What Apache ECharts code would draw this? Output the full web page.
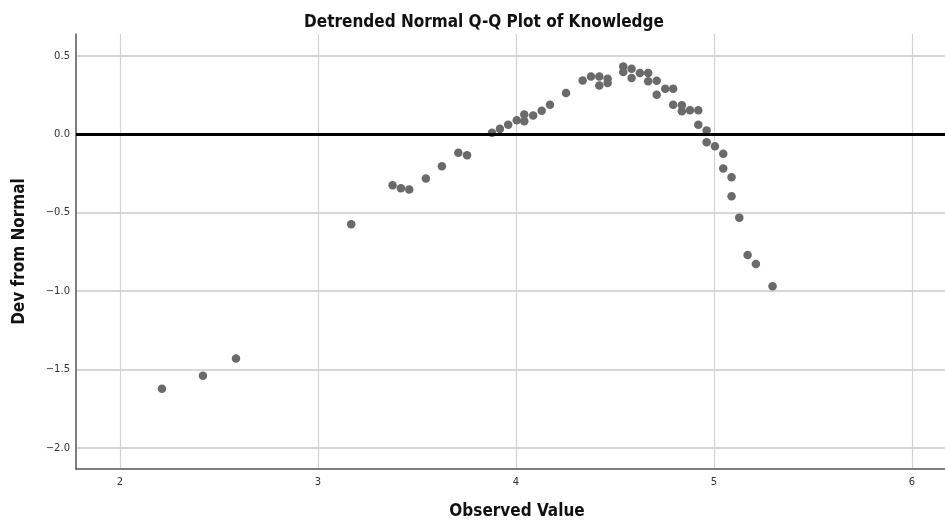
<!DOCTYPE html>
<html>
<head>
<meta charset="utf-8">
<script src="https://cdn.jsdelivr.net/npm/echarts@6/dist/echarts.min.js"></script>
<style>html,body{margin:0;padding:0;background:#fff}#c{width:945px;height:525px}</style>
</head>
<body>
<div id="c"></div>
<script>
const chartTitle = "Detrended Normal Q-Q Plot of Knowledge";
const xName = "Observed Value";
const yName = "Dev from Normal";
const observed = [2.212,2.419,2.586,3.168,3.377,3.419,3.461,3.545,3.626,3.709,3.753,3.879,3.919,3.961,4.004,4.042,4.042,4.087,4.130,4.172,4.253,4.337,4.379,4.421,4.421,4.463,4.463,4.542,4.542,4.584,4.584,4.626,4.668,4.668,4.711,4.711,4.754,4.794,4.794,4.838,4.838,4.879,4.921,4.921,4.963,4.963,5.005,5.047,5.047,5.089,5.089,5.128,5.170,5.212,5.296];
const devFromNormal = [-1.622,-1.540,-1.430,-0.573,-0.325,-0.343,-0.351,-0.281,-0.203,-0.118,-0.133,0.010,0.035,0.062,0.090,0.126,0.083,0.120,0.151,0.189,0.264,0.344,0.369,0.369,0.312,0.355,0.327,0.433,0.397,0.418,0.359,0.391,0.391,0.338,0.342,0.253,0.291,0.291,0.189,0.185,0.147,0.153,0.153,0.062,0.024,-0.050,-0.076,-0.124,-0.217,-0.273,-0.394,-0.531,-0.769,-0.826,-0.968];
const xTicks = [2,3,4,5,6];
const yTicks = [-2.0,-1.5,-1.0,-0.5,0.0,0.5];
const referenceY = 0;

const boldFont = "'DejaVu Sans Condensed','DejaVu Sans',sans-serif";
const tickFont = "'DejaVu Sans','Liberation Sans',sans-serif";
const fmt = v => (v < 0 ? '\u2212' : '') + Math.abs(v).toFixed(1);
const points = observed.map((x, i) => [x, devFromNormal[i]]);

const chart = echarts.init(document.getElementById('c'), null, {renderer: 'canvas'});
chart.setOption({
  animation: false,
  backgroundColor: '#ffffff',
  title: {
    text: chartTitle, left: 479, top: 9, textAlign: 'center',
    textStyle: {fontFamily: boldFont, fontSize: 17, fontWeight: 'bold', color: '#111'}
  },
  grid: {left: 76, right: 0, top: 34, bottom: 55, containLabel: false},
  xAxis: {
    type: 'value', min: 1.778, max: 6.167,
    name: xName, nameLocation: 'middle', nameGap: 34,
    nameTextStyle: {fontFamily: boldFont, fontSize: 17, fontWeight: 'bold', color: '#111', padding: [0, 0, 0, 13]},
    axisLine: {show: true, onZero: false, lineStyle: {color: '#555', width: 1.5}},
    axisTick: {show: false, customValues: xTicks},
    axisLabel: {customValues: xTicks, formatter: v => String(v), fontFamily: tickFont, fontSize: 10, color: '#333', margin: 8},
    splitLine: {show: true, lineStyle: {color: '#d2d2d2', width: 1.2}}
  },
  yAxis: {
    type: 'value', min: -2.134, max: 0.64,
    name: yName, nameLocation: 'middle', nameGap: 48, nameRotate: 90,
    nameTextStyle: {fontFamily: boldFont, fontSize: 17, fontWeight: 'bold', color: '#111'},
    axisLine: {show: true, onZero: false, lineStyle: {color: '#555', width: 1.5}},
    axisTick: {show: false, customValues: yTicks},
    axisLabel: {customValues: yTicks, formatter: fmt, fontFamily: tickFont, fontSize: 10, color: '#333', margin: 6},
    splitLine: {show: true, lineStyle: {color: '#d6d6d6', width: 2}}
  },
  series: [{
    type: 'scatter',
    data: points,
    symbol: 'circle',
    symbolSize: 8.5,
    itemStyle: {color: '#6a6a6a', opacity: 1},
    markLine: {
      silent: true, symbol: ['none', 'none'], label: {show: false},
      lineStyle: {color: '#000', width: 3, type: 'solid'},
      data: [{yAxis: referenceY}]
    },
    z: 3
  }]
});
</script>
</body>
</html>
